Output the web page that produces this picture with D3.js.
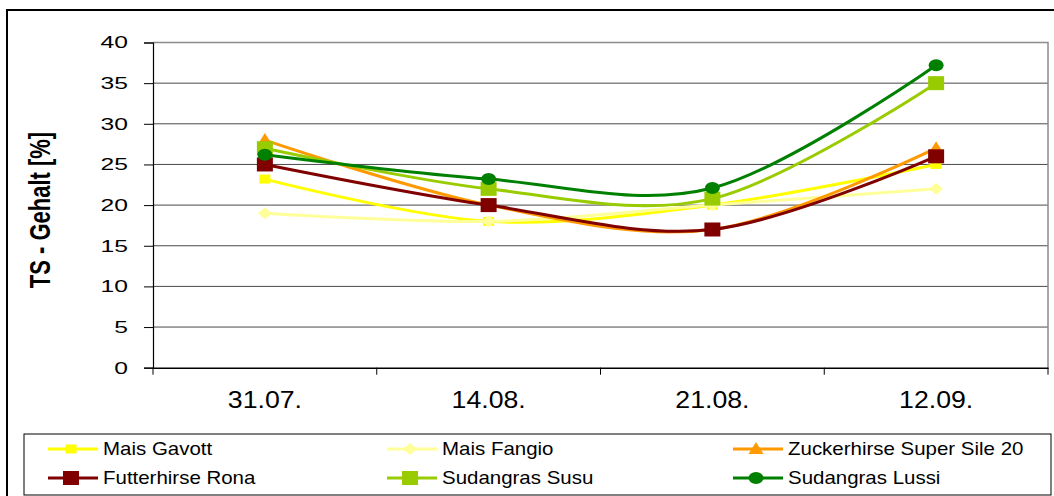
<!DOCTYPE html>
<html><head><meta charset="utf-8">
<script src="https://cdn.jsdelivr.net/npm/d3@7"></script>
<style>
body{margin:0;background:#fff;}
svg{display:block;font-family:"Liberation Sans",Arial,sans-serif;}
</style></head>
<body><svg id="c" width="1054" height="496"></svg>
<script>
const categories = ["31.07.", "14.08.", "21.08.", "12.09."];
const seriesNames = ["Mais Gavott", "Mais Fangio", "Zuckerhirse Super Sile 20", "Futterhirse Rona", "Sudangras Susu", "Sudangras Lussi"];
const maisGavott = [23.2, 18, 20, 25];
const maisFangio = [19, 18, 20, 22];
const zuckerhirse = [28, 20, 17, 27];
const futterhirse = [25, 20, 17, 26];
const sudangrasSusu = [27, 22, 20.8, 35];
const sudangrasLussi = [26.2, 23.2, 22.1, 37.2];
const yTicks = [0, 5, 10, 15, 20, 25, 30, 35, 40];
const colors = ["#FFFF00", "#FFFF99", "#FF9900", "#800000", "#99CC00", "#008000"];
const markers = ["smallsquare", "diamond", "triangle", "square", "square", "circle"];

const data = [maisGavott, maisFangio, zuckerhirse, futterhirse, sudangrasSusu, sudangrasLussi];
const svg = d3.select("#c");

// outer chart border
svg.append("rect").attr("x", 7).attr("y", 10).attr("width", 1060).attr("height", 500)
  .attr("fill", "#fff").attr("stroke", "#000").attr("stroke-width", 2);

const L = 153, R = 1048, T = 42.5, B = 367.7;
const x = d3.scaleBand().domain(categories).range([L, R]);
const y = d3.scaleLinear().domain([0, 40]).range([B, T]);

// gridlines
svg.append("g").selectAll("line").data(yTicks.filter(d => d > 0 && d < 40)).join("line")
  .attr("x1", L).attr("x2", R).attr("y1", d => y(d)).attr("y2", d => y(d))
  .attr("stroke", "#4a4a4a").attr("stroke-width", 1);
// plot border (top/right)
svg.append("path").attr("d", `M${L},${T}H${R}V${B}`).attr("fill", "none")
  .attr("stroke", "#8c8c8c").attr("stroke-width", 1.5);

// y axis
const ySX = 1.45;
const yAxis = d3.axisLeft(y).tickValues(yTicks).tickSize(9).tickPadding(8);
const gy = svg.append("g").attr("transform", `translate(${L},0)`).call(yAxis);
gy.select(".domain").attr("stroke", "#000").attr("stroke-width", 1.2);
gy.selectAll(".tick line").attr("stroke", "#000");
gy.selectAll("text").attr("font-size", 17).attr("fill", "#000")
  .attr("font-family", "Liberation Sans, Arial, sans-serif")
  .attr("transform", `scale(${ySX},1)`).attr("x", -25 / ySX);

// x axis
const xAxis = d3.axisBottom(x).tickSize(0).tickPadding(0);
const gx = svg.append("g").attr("transform", `translate(0,${B})`).call(xAxis);
gx.select(".domain").attr("stroke", "#000").attr("stroke-width", 1.5);
gx.selectAll(".tick text").attr("font-size", 23).attr("fill", "#000")
  .attr("font-family", "Liberation Sans, Arial, sans-serif")
  .attr("transform", "scale(1.16,1)")
  .attr("y", 40.5).attr("dy", 0);
// category boundary ticks
const bounds = categories.map(c => x(c)).concat([x(categories[3]) + x.bandwidth()]);
gx.append("g").selectAll("line").data(bounds).join("line")
  .attr("x1", d => d).attr("x2", d => d).attr("y1", 0).attr("y2", 7)
  .attr("stroke", "#000").attr("stroke-width", 1);

// y title
svg.append("text").attr("transform", "translate(50,210) scale(1.35,1) rotate(-90)")
  .attr("text-anchor", "middle").attr("font-weight", "bold").attr("font-size", 22)
  .text("TS - Gehalt [%]");

const cx = c => x(c) + x.bandwidth() / 2;
const line = d3.line().x((d, i) => cx(categories[i])).y(d => y(d)).curve(d3.curveCatmullRom.alpha(0));

function drawMarker(g, type, color, px, py) {
  if (type === "square") g.append("rect").attr("x", px - 8).attr("y", py - 7).attr("width", 16).attr("height", 14).attr("fill", color);
  else if (type === "smallsquare") g.append("rect").attr("x", px - 5.5).attr("y", py - 4.5).attr("width", 11).attr("height", 9).attr("fill", color);
  else if (type === "circle") g.append("ellipse").attr("cx", px).attr("cy", py).attr("rx", 7.5).attr("ry", 6).attr("fill", color);
  else if (type === "triangle") g.append("path").attr("d", `M${px},${py - 7}L${px + 7.5},${py + 5}L${px - 7.5},${py + 5}Z`).attr("fill", color);
  else if (type === "diamond") g.append("path").attr("d", `M${px},${py - 6}L${px + 7},${py}L${px},${py + 6}L${px - 7},${py}Z`).attr("fill", color);
}

data.forEach((vals, si) => {
  const g = svg.append("g");
  g.append("path").datum(vals).attr("d", line).attr("fill", "none")
    .attr("stroke", colors[si]).attr("stroke-width", 3).attr("stroke-linejoin", "round");
  vals.forEach((v, i) => drawMarker(g, markers[si], colors[si], cx(categories[i]), y(v)));
});

// legend
svg.append("rect").attr("x", 24).attr("y", 434).attr("width", 1027).attr("height", 61)
  .attr("fill", "#fff").attr("stroke", "#000").attr("stroke-width", 1);
const colX = [48, 387, 733];
const rowY = [449, 478];
seriesNames.forEach((name, i) => {
  const col = i % 3, row = Math.floor(i / 3);
  const lx = colX[col], ly = rowY[row];
  const g = svg.append("g");
  g.append("line").attr("x1", lx).attr("x2", lx + 50).attr("y1", ly).attr("y2", ly)
    .attr("stroke", colors[i]).attr("stroke-width", 3);
  drawMarker(g, markers[i], colors[i], lx + 23, ly);
  g.append("text").attr("transform", `translate(${lx + 55},${ly}) scale(1.17,1)`)
    .attr("dy", "0.35em").attr("font-size", 17.5).text(name);
});
</script></body></html>
